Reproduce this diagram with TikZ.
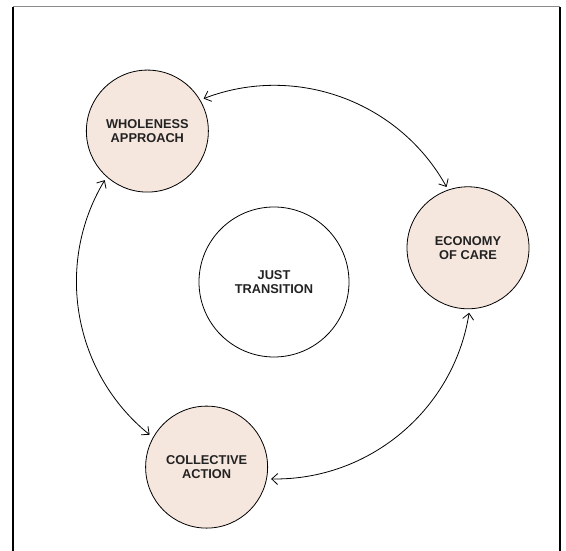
\documentclass[tikz,border=0pt]{standalone}
\usepackage{fontspec}
\setmainfont{Liberation Sans}
\usetikzlibrary{arrows.meta,calc}
\definecolor{peach}{HTML}{F6E7DE}
\definecolor{inkgray}{HTML}{222222}
\begin{document}
\begin{tikzpicture}[x=1pt,y=1pt,
  theme/.style={circle, draw=black, line width=0.8pt, fill=peach,
    minimum size=122pt, inner sep=0pt, outer sep=4pt, align=center,
    font=\fontsize{12.8}{14}\selectfont\bfseries, text=inkgray},
  core/.style={theme, fill=white, minimum size=150pt},
  link/.style={line width=0.8pt, {Straight Barb[length=6pt,width=11pt]}-{Straight Barb[length=6pt,width=11pt]}}]
\useasboundingbox (0,0) rectangle (566,551);
% open frame
\draw[line width=1pt, black!45] (13,544) -- (560,544);
\draw[line width=1.2pt] (13,0) -- (13,544);
\draw[line width=1.2pt] (560,0) -- (560,544);
% ring of themes around the centre
\coordinate (O) at (274,269);
\node[core] (just) at (O) {JUST\\TRANSITION};
\node[theme] (whole) at ($(O)+(130:197)$) {WHOLENESS\\APPROACH};
\node[theme] (econ) at ($(O)+(10:197)$) {ECONOMY\\OF CARE};
\node[theme] (coll) at ($(O)+(250:197)$) {COLLECTIVE\\ACTION};
% arcs along the ring
\draw[link] (whole.30.5) arc[start angle=111, end angle=29, radius=197];
\draw[link] (whole.229.5) arc[start angle=149, end angle=231, radius=197];
\draw[link] (econ.-89.5) arc[start angle=-9, end angle=-91, radius=197];
\end{tikzpicture}
\end{document}
